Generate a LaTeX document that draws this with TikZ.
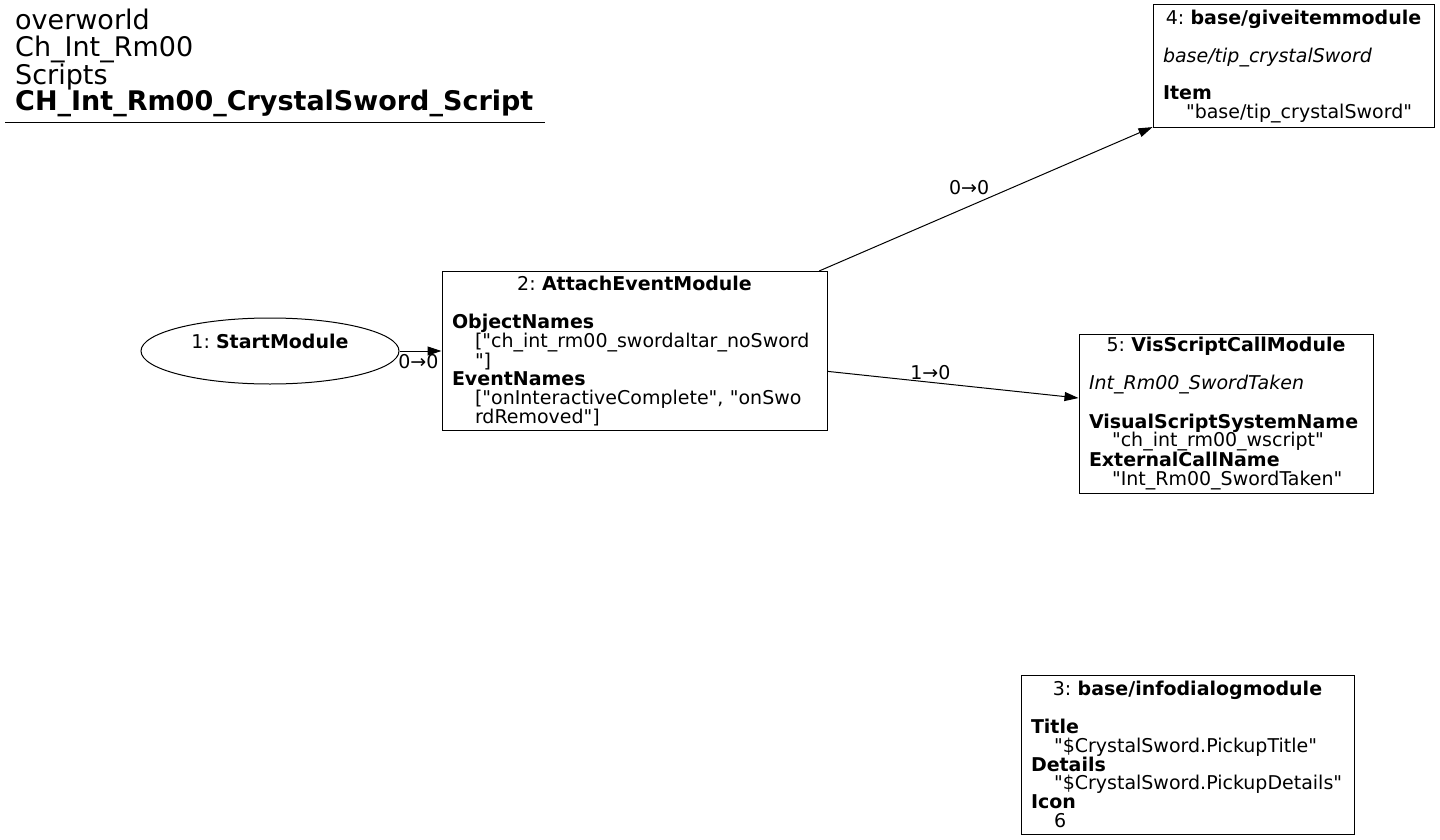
\documentclass[tikz,border=0pt]{standalone}
\usepackage{fontspec}
\setmainfont{DejaVu Sans}[Ligatures=TeXOff]
\frenchspacing
\usetikzlibrary{positioning,shapes.geometric,arrows.meta}
\newcommand{\modhead}[1]{\hbox to\hsize{\hss#1\hss}}
\newcommand{\modval}[1]{\hspace*{23pt}\mbox{#1}}

\begin{document}
\begin{tikzpicture}[x=1pt,y=-1pt,
    every node/.style={font=\fontsize{19}{18.7}\selectfont},
    module/.style={draw,line width=1pt,align=left,inner xsep=10pt,inner ysep=0pt},
    startmod/.style={draw,line width=1pt,ellipse,minimum width=258pt,minimum height=66pt,inner sep=0pt},
    link/.style={line width=1pt,-{Triangle[length=14pt,width=9pt]}},
    linklabel/.style={inner sep=0pt}]
  \useasboundingbox (0,0) rectangle (1440,840);
  % title
  \node[anchor=north west,align=left,inner sep=0pt,font=\fontsize{27}{26.5}\selectfont] (title) at (15,9)
    {overworld\\Ch\_Int\_Rm00\\Scripts\\\textbf{CH\_Int\_Rm00\_CrystalSword\_Script}};
  \coordinate (rulel) at (5,123);
  \coordinate (ruler) at (545,123);
  \draw[line width=1pt] (rulel) -- (ruler);
  % modules
  \node[startmod,label={[yshift=10pt]center:1: \textbf{StartModule}}] (start) at (270,351) {};
  \node[module,text width=365pt,minimum height=159pt,right=42pt of start] (attach)
    {\modhead{2: \textbf{AttachEventModule}}\\[19pt]
     \textbf{ObjectNames}\\
     \modval{["ch\_int\_rm00\_swordaltar\_noSword}\\
     \modval{"]}\\
     \textbf{EventNames}\\
     \modval{["onInteractiveComplete", "onSwo}\\
     \modval{rdRemoved"]}};
  \node[module,text width=261pt,minimum height=123pt] (giveitem) at (1293.5,66.5)
    {\modhead{4: \textbf{base/giveitemmodule}}\\[19pt]
     \textit{base/tip\_crystalSword}\\[19pt]
     \textbf{Item}\\
     \modval{"base/tip\_crystalSword"}};
  \node[module,text width=274pt,minimum height=159pt] (visscript) at (1226,413.5)
    {\modhead{5: \textbf{VisScriptCallModule}}\\[19pt]
     \textit{Int\_Rm00\_SwordTaken}\\[19pt]
     \textbf{VisualScriptSystemName}\\
     \modval{"ch\_int\_rm00\_wscript"}\\
     \textbf{ExternalCallName}\\
     \modval{"Int\_Rm00\_SwordTaken"}};
  \node[module,text width=313pt,minimum height=159pt] (infodialog) at (1187.5,754.5)
    {\modhead{3: \textbf{base/infodialogmodule}}\\[19pt]
     \textbf{Title}\\
     \modval{"\$CrystalSword.PickupTitle"}\\
     \textbf{Details}\\
     \modval{"\$CrystalSword.PickupDetails"}\\
     \textbf{Icon}\\
     \modval{6}};
  % links
  \draw[link] (start) -- node[linklabel,pos=0.45,below=3pt] {0→0} (attach);
  \draw[link] (attach) -- node[linklabel,pos=0.45,above=11pt] {0→0} (giveitem);
  \draw[link] (attach) -- node[linklabel,pos=0.41,above=2pt] {1→0} (visscript);
\end{tikzpicture}
\end{document}
